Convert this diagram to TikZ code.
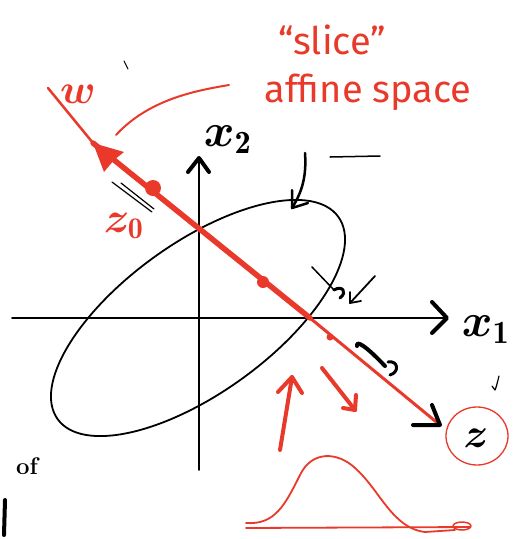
\documentclass[tikz,border=0pt]{standalone}
\usepackage{amsmath}
\usepackage{bm}
\usepackage{graphicx}
\usepackage{fontspec}
\newfontfamily\hand{Fira Sans}
\usetikzlibrary{arrows.meta}
\definecolor{pen}{HTML}{E8392A}
\tikzset{
  redpen/.style={draw=pen, line width=#1, line cap=round, line join=round},
  redpen/.default=2.5pt,
  blackpen/.style={draw=black, line width=#1, line cap=round, line join=round},
  blackpen/.default=2pt,
  reddot/.style={circle, fill=pen, inner sep=0pt, minimum size=#1},
  lbl/.style={inner sep=0pt},
  redlbl/.style={inner sep=0pt, text=pen},
  redtxt/.style={inner sep=0pt, text=pen, font=\hand\fontsize{38}{40}\selectfont},
}
\begin{document}
\begin{tikzpicture}[x=1pt,y=-1pt]
\useasboundingbox (0,0) rectangle (514,539);
% axes
\coordinate (xl) at (12,318);
\coordinate (xr) at (447,318);
\coordinate (yb) at (199,470);
\coordinate (yt) at (199,158);
\draw[blackpen=1.8pt] (xl) -- (xr);
\draw[blackpen=1.8pt] (yb) -- (yt);
\draw[blackpen=4pt] (432,302) -- (xr) -- (432,333);
\draw[blackpen=4pt] (188,172) -- (yt) -- (209,172);
\node[lbl] (x1) at (486,330) {\scalebox{2.7}{\LARGE $\bm{x}_{\mathbf 1}$}};
\node[lbl] (x2) at (228,140) {\scalebox{2.7}{\LARGE $\bm{x}_{\mathbf 2}$}};
% ellipse
\coordinate (o) at (198,318);
\draw[blackpen=1.8pt, rotate around={35.8:(o)}] (o) ellipse [x radius=173, y radius=75];
% red line
\coordinate (wtop) at (48,88);
\coordinate (wtip) at (93,143);
\coordinate (mid) at (310,318);
\coordinate (zend) at (440,425);
\draw[redpen=2.5pt] (wtop) -- (wtip);
\draw[redpen=5.5pt] (wtip) -- (mid);
\draw[redpen=3pt] (mid) -- (zend);
\fill[pen] (wtip) -- (124,152) -- (114,160) -- (104,172) -- cycle;
\node[reddot=16pt] (z0pt) at (153,188) {};
\node[reddot=12pt] (midpt) at (263,282) {};
\node[reddot=7pt] (lowpt) at (330,337) {};
\draw[blackpen=4pt] (413,425) -- (zend) -- (432,405);
% labels red
\node[redlbl] (w) at (78,94) {\scalebox{2.4}{\LARGE $\bm{w}$}};
\node[redlbl] (z0) at (124,226) {\scalebox{2.5}{\LARGE $\bm{z}_{\mathbf 0}$}};
\node[redtxt] (slice) at (332,40) {“slice”};
\node[redtxt] (affine) at (368,92) {affine space};
\draw[redpen=2pt] (116,135) .. controls (150,98) and (200,90) .. (229,85);
% z circle
\node[lbl] (z) at (476,438) {\scalebox{2.4}{\LARGE $\bm{z}$}};
\draw[draw=pen, line width=1.3pt] (477,436) ellipse [x radius=31, y radius=29];
% red small arrows
\coordinate (ua) at (280,450);
\coordinate (ub) at (292,377);
\draw[redpen=4pt] (ua) -- (ub);
\draw[redpen=4pt] (278,392) -- (ub) -- (302,393);
\coordinate (da) at (322,368);
\coordinate (db) at (355,410);
\draw[redpen=4pt] (da) -- (db);
\draw[redpen=4pt] (343,408) -- (db) -- (356,395);
% distribution
\draw[redpen=1.8pt] (246,528) -- (470,527);
\draw[redpen=1.8pt] (246,523) .. controls (275,525) and (285,505) .. (300,475)
  .. controls (312,450) and (338,452) .. (355,468)
  .. controls (380,490) and (392,528) .. (425,532) -- (455,530);
\draw[redpen=1.5pt] (462,526) ellipse [x radius=9, y radius=4];
% black annotations
\coordinate (ca) at (305,153);
\coordinate (cb) at (292,208);
\draw[blackpen=2.5pt] (ca) .. controls (307,180) and (300,195) .. (cb);
\draw[blackpen=2.5pt] (292,190) -- (cb) -- (308,203);
\draw[blackpen=1.5pt] (330,157) -- (380,156);
\draw[blackpen=1.5pt] (312,267) -- (334,290);
\draw[blackpen=3pt] (334,290) .. controls (342,285) and (348,292) .. (340,298);
\coordinate (sa) at (375,276);
\coordinate (sb) at (350,303);
\draw[blackpen=1.8pt] (sa) -- (sb);
\draw[blackpen=1.8pt] (350,292) -- (sb) -- (361,301);
\draw[blackpen=4pt] (357,346) .. controls (356,340) and (365,345) .. (385,366);
\draw[blackpen=3pt] (388,362) .. controls (398,360) and (400,372) .. (390,375);
\draw[blackpen=1.2pt] (112,182) -- (152,212);
\draw[blackpen=1.2pt] (121,183) -- (154,209);
\draw[blackpen=1pt] (124,61) -- (128,69);
\draw[blackpen=1.2pt] (499,376) .. controls (497,384) and (496,388) .. (495,390) -- (492,386);
\node[inner sep=0pt, font=\bfseries\fontsize{24}{24}\selectfont] (of) at (27,466) {of};
\draw[blackpen=4pt] (5,500) -- (4,535);
\end{tikzpicture}
\end{document}
